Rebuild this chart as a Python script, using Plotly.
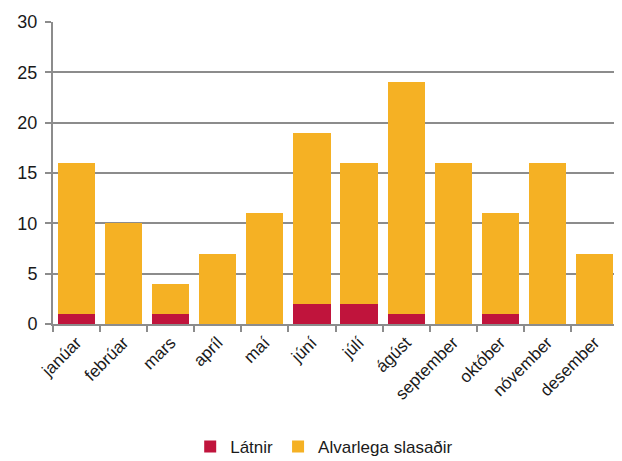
import plotly.graph_objects as go

months = ["janúar", "febrúar", "mars", "apríl", "maí", "júní", "júlí",
          "ágúst", "september", "október", "nóvember", "desember"]
latnir = [1, 0, 1, 0, 0, 2, 2, 1, 0, 1, 0, 0]
alvarlega = [15, 10, 3, 7, 11, 17, 14, 23, 16, 10, 16, 7]

fig = go.Figure()
fig.add_trace(go.Bar(x=months, y=latnir, name="Látnir",
                     marker=dict(color="#C0143C", line=dict(width=0))))
fig.add_trace(go.Bar(x=months, y=alvarlega, name="Alvarlega slasaðir",
                     marker=dict(color="#F5B124", line=dict(width=0))))

fig.update_layout(
    barmode="stack",
    bargap=0.21,
    width=622, height=461,
    margin=dict(l=45, r=12, t=14, b=145, autoexpand=False),
    plot_bgcolor="white", paper_bgcolor="white",
    font=dict(family="Liberation Sans, Arial, sans-serif", size=18, color="#1a1a1a"),
    legend=dict(orientation="h", x=0.48, xanchor="center", y=-0.407, yanchor="middle",
                font=dict(size=17), itemwidth=30, traceorder="normal"),
    showlegend=True,
)
fig.update_yaxes(range=[0, 30], dtick=5, showgrid=True, gridcolor="#8c8c8c", gridwidth=2,
                 showline=True, linecolor="#8c8c8c", linewidth=2,
                 ticks="outside", ticklen=6, tickcolor="#8c8c8c", tickwidth=2,
                 zeroline=False, ticklabelstandoff=4, automargin=False)
fig.update_xaxes(showline=True, linecolor="#8c8c8c", linewidth=2,
                 ticks="outside", ticklen=6, tickcolor="#8c8c8c", tickwidth=2,
                 tickson="boundaries", tickangle=-45, tickfont=dict(size=17),
                 automargin=False)

fig.write_html("out.html")
